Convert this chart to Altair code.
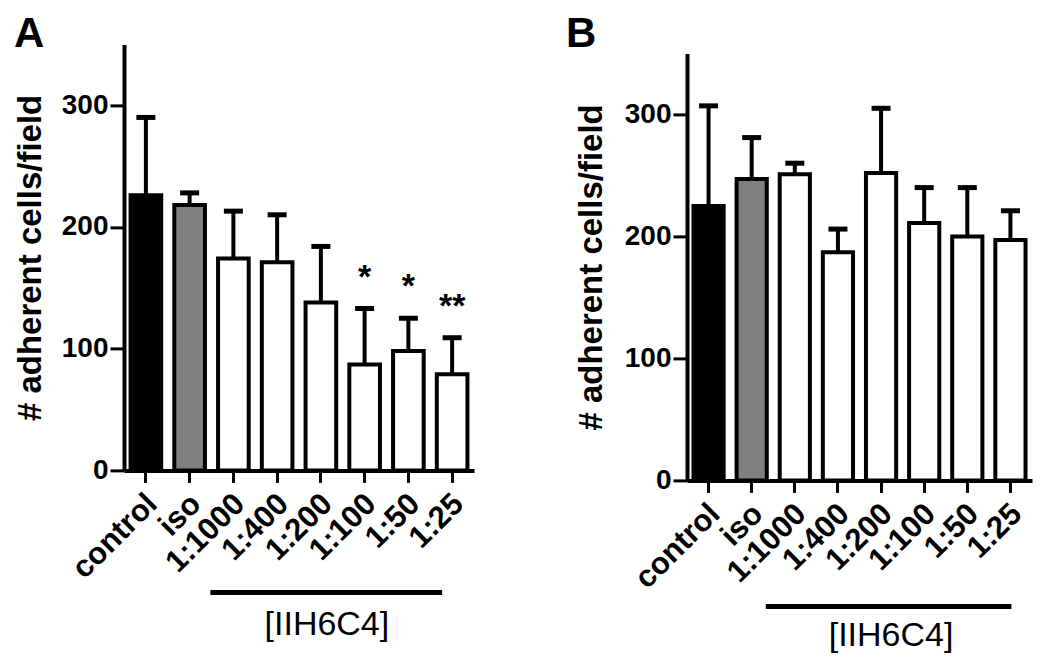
import altair as alt
import pandas as pd

categories = ["control", "iso", "1:1000", "1:400", "1:200", "1:100", "1:50", "1:25"]
groups = ["control", "iso", "treat", "treat", "treat", "treat", "treat", "treat"]

a_mean = [226, 218, 174, 171, 138, 87, 98, 79]
a_top = [290, 228, 213, 210, 184, 133, 125, 109]
a_sig = ["", "", "", "", "", "*", "*", "**"]

b_mean = [225, 247, 251, 187, 252, 211, 200, 197]
b_top = [307, 281, 260, 206, 305, 240, 240, 221]
b_sig = ["", "", "", "", "", "", "", ""]

y_ticks = [0, 100, 200, 300]
y_title = "# adherent cells/field"
bracket_label = "[IIH6C4]"

FONT = "Liberation Sans"


def panel(letter, mean, top, sig, width, height, yrange, letter_x, letter_y,
          br_y, br_off1, br_off2, br_text_y, br_text_dx, title_pad):
    df = pd.DataFrame({"cat": categories, "grp": groups, "mean": mean,
                       "top": top, "sig": sig})
    xscale = alt.Scale(domain=categories, paddingInner=0.3, paddingOuter=0.15)
    xaxis = alt.Axis(title=None, labelAngle=-45, labelFontSize=31,
                     labelFontWeight="bold", tickSize=12, tickWidth=3,
                     domainWidth=4, labelPadding=6, labelOffset=-4)

    def xe(field):
        return alt.X(field, type="nominal", sort=categories, scale=xscale, axis=xaxis)

    yaxis = alt.Axis(title=y_title, values=y_ticks, grid=False, tickSize=14,
                     tickWidth=3, domainWidth=4, labelFontSize=28,
                     labelFontWeight="bold", labelPadding=2, titleFontSize=33,
                     titleFontWeight="bold", titlePadding=title_pad)
    yscale = alt.Scale(domain=[0, 350], range=yrange, nice=False)
    base = alt.Chart(df)
    err = base.mark_rule(color="black", strokeWidth=4).encode(
        x=xe("cat"), y=alt.Y("mean:Q", scale=yscale, axis=yaxis), y2="top:Q")
    cap = base.mark_tick(color="black", thickness=5, size=19, orient="horizontal",
                         opacity=1).encode(
        x=xe("cat"), y=alt.Y("top:Q", scale=yscale, axis=yaxis))
    bars = base.mark_bar(stroke="black", strokeWidth=4, opacity=1).encode(
        x=xe("cat"), y=alt.Y("mean:Q", scale=yscale, axis=yaxis),
        fill=alt.Fill("grp:N", scale=alt.Scale(domain=["control", "iso", "treat"],
                                               range=["#000000", "#808080", "#ffffff"]),
                      legend=None))
    stars = base.mark_text(dy=-21, fontSize=34, fontWeight="bold", font=FONT,
                           color="black", baseline="alphabetic").encode(
        x=xe("cat"), y=alt.Y("top:Q", scale=yscale, axis=yaxis), text="sig:N")
    bdf = pd.DataFrame({"start": [categories[2]], "end": [categories[-1]],
                        "mid": [categories[4]], "label": [bracket_label],
                        "letter": [letter]})
    bbase = alt.Chart(bdf)
    bracket = bbase.mark_rule(color="black", strokeWidth=5, xOffset=br_off1,
                              x2Offset=br_off2).encode(
        x=xe("start"), x2="end:N", y=alt.value(br_y))
    btext = bbase.mark_text(fontSize=34, font=FONT, color="black", dx=br_text_dx,
                            baseline="middle").encode(
        x=xe("mid"), y=alt.value(br_text_y), text="label:N")
    lett = bbase.mark_text(fontSize=42, fontWeight="bold", font=FONT, color="black",
                           align="left", baseline="alphabetic").encode(
        x=alt.value(letter_x), y=alt.value(letter_y), text="letter:N")
    return alt.layer(err, cap, bars, stars, bracket, btext, lett).properties(
        width=width, height=height)


pa = panel("A", a_mean, a_top, a_sig, 350, 426, [426, 0], -110, 3,
           548, -23, -10, 581, 6, 14)
pb = panel("B", b_mean, b_top, b_sig, 345, 436, [436, 9], -121, 3,
           562, -29, 1, 592, 10, 16)

chart = alt.hconcat(pa, pb, spacing=213, bounds="flush").properties(
    padding={"left": 6, "top": 5.4, "right": 5, "bottom": 5},
    background="white"
).configure_view(stroke=None).configure_axis(
    domainColor="black", tickColor="black", labelColor="black", titleColor="black",
    labelFont=FONT, titleFont=FONT
).configure_text(font=FONT)

chart.save("out.html", embed_options={"renderer": "svg", "actions": False})
